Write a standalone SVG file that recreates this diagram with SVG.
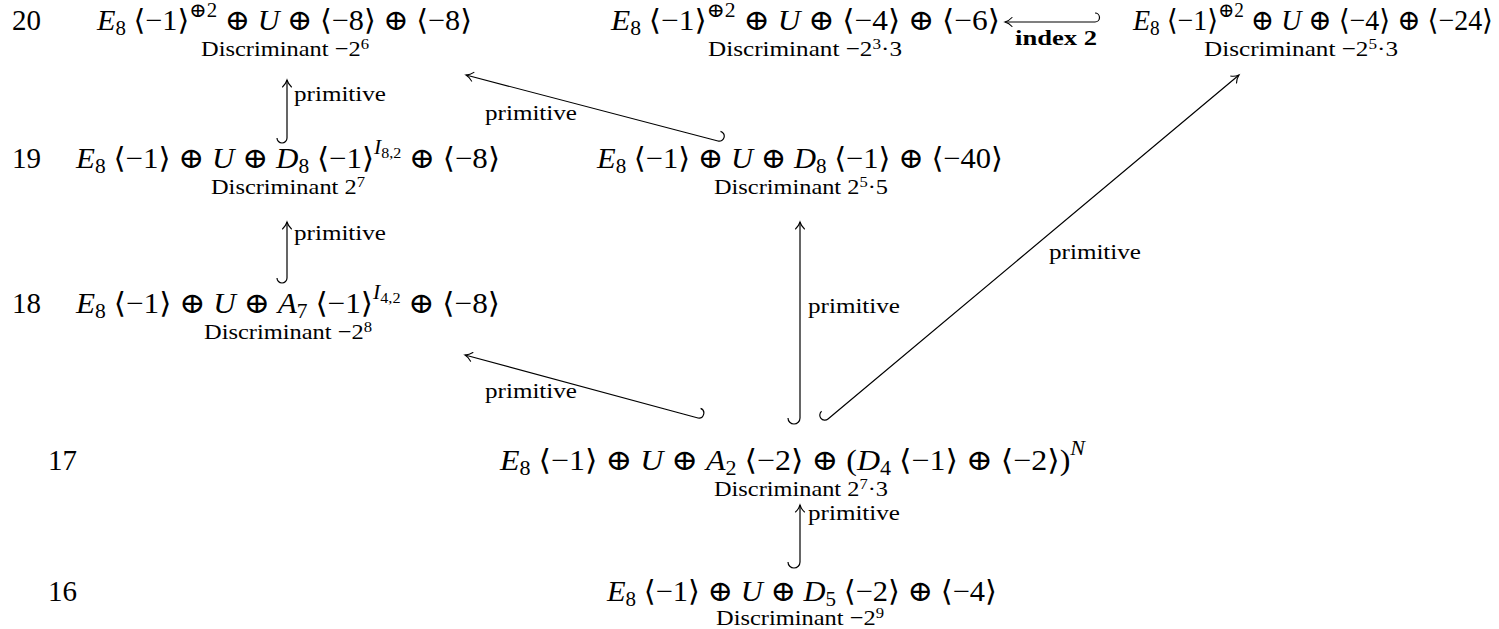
<svg xmlns="http://www.w3.org/2000/svg" width="1499" height="629" viewBox="0 0 1499 629">
<defs>
<style>
text{font-family:"Liberation Serif","DejaVu Serif","DejaVu Sans",serif;fill:#000}
.m{font-size:29px}
.i{font-style:italic}
.sb{font-size:20px}
.ss{font-size:15px}
.d{font-size:22px}
.dsp{font-size:15px}
.lab{font-size:22px}
.idx{font-size:20px;font-weight:bold}
.c{fill:none;stroke:#000;stroke-width:1.2;marker-end:url(#to)}
</style>
<marker id="to" markerUnits="userSpaceOnUse" viewBox="-10 -7 12 14" markerWidth="12" markerHeight="14" refX="0" refY="0" orient="auto" overflow="visible">
<path d="M-7,-4.5 C-5,-2.2 -2.2,-0.7 0,0 C-2.2,0.7 -5,2.2 -7,4.5" fill="none" stroke="#000" stroke-width="1.1" stroke-linecap="round"/>
</marker>
</defs>

<g id="rowlabels">
<text class="m" x="12" y="30">20</text>
<text class="m" x="12" y="168">19</text>
<text class="m" x="12" y="313">18</text>
<text class="m" x="48" y="470">17</text>
<text class="m" x="48" y="601">16</text>
</g>

<g id="n20a">
<text class="m" x="97" y="30" textLength="375" lengthAdjust="spacingAndGlyphs"><tspan class="i">E</tspan><tspan class="sb" dy="5">8</tspan><tspan dy="-5"> ⟨−1⟩</tspan><tspan class="sb" dy="-13">⊕2</tspan><tspan dy="13"> ⊕ </tspan><tspan class="i">U</tspan><tspan> ⊕ ⟨−8⟩ ⊕ ⟨−8⟩</tspan></text>
<text class="d" x="285" y="56" text-anchor="middle" textLength="168" lengthAdjust="spacingAndGlyphs">Discriminant −2<tspan class="dsp" dy="-7">6</tspan></text>
</g>

<g id="n20b">
<text class="m" x="611" y="30" textLength="389" lengthAdjust="spacingAndGlyphs"><tspan class="i">E</tspan><tspan class="sb" dy="5">8</tspan><tspan dy="-5"> ⟨−1⟩</tspan><tspan class="sb" dy="-13">⊕2</tspan><tspan dy="13"> ⊕ </tspan><tspan class="i">U</tspan><tspan> ⊕ ⟨−4⟩ ⊕ ⟨−6⟩</tspan></text>
<text class="d" x="805" y="56" text-anchor="middle" textLength="194" lengthAdjust="spacingAndGlyphs">Discriminant −2<tspan class="dsp" dy="-7">3</tspan><tspan dy="7">·3</tspan></text>
</g>

<g id="n20c">
<text class="m" x="1133" y="30" textLength="360" lengthAdjust="spacingAndGlyphs"><tspan class="i">E</tspan><tspan class="sb" dy="5">8</tspan><tspan dy="-5"> ⟨−1⟩</tspan><tspan class="sb" dy="-13">⊕2</tspan><tspan dy="13"> ⊕ </tspan><tspan class="i">U</tspan><tspan> ⊕ ⟨−4⟩ ⊕ ⟨−24⟩</tspan></text>
<text class="d" x="1301" y="56" text-anchor="middle" textLength="194" lengthAdjust="spacingAndGlyphs">Discriminant −2<tspan class="dsp" dy="-7">5</tspan><tspan dy="7">·3</tspan></text>
</g>

<g id="n19a">
<text class="m" x="76" y="168" textLength="424" lengthAdjust="spacingAndGlyphs"><tspan class="i">E</tspan><tspan class="sb" dy="5">8</tspan><tspan dy="-5"> ⟨−1⟩ ⊕ </tspan><tspan class="i">U</tspan><tspan> ⊕ </tspan><tspan class="i">D</tspan><tspan class="sb" dy="5">8</tspan><tspan dy="-5"> ⟨−1⟩</tspan><tspan class="sb i" dy="-14">I</tspan><tspan class="ss" dy="4">8,2</tspan><tspan dy="10"> ⊕ ⟨−8⟩</tspan></text>
<text class="d" x="288" y="194" text-anchor="middle" textLength="154" lengthAdjust="spacingAndGlyphs">Discriminant 2<tspan class="dsp" dy="-7">7</tspan></text>
</g>

<g id="n19b">
<text class="m" x="597" y="168" textLength="406" lengthAdjust="spacingAndGlyphs"><tspan class="i">E</tspan><tspan class="sb" dy="5">8</tspan><tspan dy="-5"> ⟨−1⟩ ⊕ </tspan><tspan class="i">U</tspan><tspan> ⊕ </tspan><tspan class="i">D</tspan><tspan class="sb" dy="5">8</tspan><tspan dy="-5"> ⟨−1⟩ ⊕ ⟨−40⟩</tspan></text>
<text class="d" x="801" y="194" text-anchor="middle" textLength="174" lengthAdjust="spacingAndGlyphs">Discriminant 2<tspan class="dsp" dy="-7">5</tspan><tspan dy="7">·5</tspan></text>
</g>

<g id="n18">
<text class="m" x="76" y="313" textLength="424" lengthAdjust="spacingAndGlyphs"><tspan class="i">E</tspan><tspan class="sb" dy="5">8</tspan><tspan dy="-5"> ⟨−1⟩ ⊕ </tspan><tspan class="i">U</tspan><tspan> ⊕ </tspan><tspan class="i">A</tspan><tspan class="sb" dy="5">7</tspan><tspan dy="-5"> ⟨−1⟩</tspan><tspan class="sb i" dy="-14">I</tspan><tspan class="ss" dy="4">4,2</tspan><tspan dy="10"> ⊕ ⟨−8⟩</tspan></text>
<text class="d" x="288" y="339" text-anchor="middle" textLength="168" lengthAdjust="spacingAndGlyphs">Discriminant −2<tspan class="dsp" dy="-7">8</tspan></text>
</g>

<g id="n17">
<text class="m" x="500" y="470" textLength="585" lengthAdjust="spacingAndGlyphs"><tspan class="i">E</tspan><tspan class="sb" dy="5">8</tspan><tspan dy="-5"> ⟨−1⟩ ⊕ </tspan><tspan class="i">U</tspan><tspan> ⊕ </tspan><tspan class="i">A</tspan><tspan class="sb" dy="5">2</tspan><tspan dy="-5"> ⟨−2⟩ ⊕ (</tspan><tspan class="i">D</tspan><tspan class="sb" dy="5">4</tspan><tspan dy="-5"> ⟨−1⟩ ⊕ ⟨−2⟩)</tspan><tspan class="sb i" dy="-15">N</tspan></text>
<text class="d" x="801" y="496" text-anchor="middle" textLength="174" lengthAdjust="spacingAndGlyphs">Discriminant 2<tspan class="dsp" dy="-7">7</tspan><tspan dy="7">·3</tspan></text>
</g>

<g id="n16">
<text class="m" x="607" y="601" textLength="390" lengthAdjust="spacingAndGlyphs"><tspan class="i">E</tspan><tspan class="sb" dy="5">8</tspan><tspan dy="-5"> ⟨−1⟩ ⊕ </tspan><tspan class="i">U</tspan><tspan> ⊕ </tspan><tspan class="i">D</tspan><tspan class="sb" dy="5">5</tspan><tspan dy="-5"> ⟨−2⟩ ⊕ ⟨−4⟩</tspan></text>
<text class="d" x="800" y="625" text-anchor="middle" textLength="168" lengthAdjust="spacingAndGlyphs">Discriminant −2<tspan class="dsp" dy="-7">9</tspan></text>
</g>

<g id="connectors">
<path class="c" d="M277,138 A5,5 0 0 0 287,138 L287,80"/>
<text class="lab" x="294" y="101" textLength="92" lengthAdjust="spacingAndGlyphs">primitive</text>
<path class="c" d="M277,278 A5,5 0 0 0 287,278 L287,222"/>
<text class="lab" x="294" y="240" textLength="92" lengthAdjust="spacingAndGlyphs">primitive</text>
<path class="c" d="M720.5,131.3 A5,5 0 0 1 718,141 L466,75"/>
<text class="lab" x="485" y="120" textLength="92" lengthAdjust="spacingAndGlyphs">primitive</text>
<path class="c" d="M700.6,408.4 A5,5 0 0 1 698,418 L465,355"/>
<text class="lab" x="485" y="398" textLength="92" lengthAdjust="spacingAndGlyphs">primitive</text>
<path class="c" d="M788,418 A6,6 0 0 0 800,418 L800,222"/>
<text class="lab" x="808" y="313" textLength="92" lengthAdjust="spacingAndGlyphs">primitive</text>
<path class="c" d="M821.6,411.3 A5,5 0 0 0 828,419 L1239,75"/>
<text class="lab" x="1049" y="259" textLength="92" lengthAdjust="spacingAndGlyphs">primitive</text>
<path class="c" d="M788,562 A6,6 0 0 0 800,562 L800,505"/>
<text class="lab" x="808" y="520" textLength="92" lengthAdjust="spacingAndGlyphs">primitive</text>
<path class="c" d="M1095,13 A4.5,4.5 0 0 1 1095,22 L1005,22"/>
<text class="idx" x="1056" y="45" text-anchor="middle" textLength="82" lengthAdjust="spacingAndGlyphs">index 2</text>
</g>
</svg>
